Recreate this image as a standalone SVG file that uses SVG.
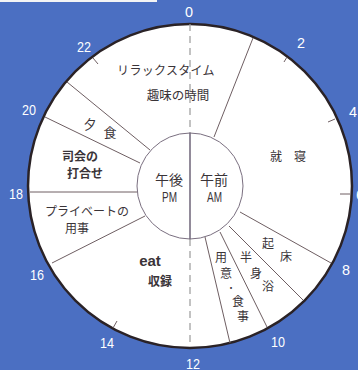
<svg xmlns="http://www.w3.org/2000/svg" width="358" height="370" viewBox="0 0 358 370">
<style>
.num{font-family:"Liberation Sans",Arial,sans-serif;font-size:15px;fill:#ffffff;text-anchor:middle}
.jp{font-family:"Noto Sans CJK JP","Noto Sans",sans-serif;font-size:12px;fill:#3a3438;text-anchor:middle}
.bold{font-weight:bold}
.div{stroke:#6e5e62;stroke-width:1;fill:none}
.tick{stroke:#6e5e62;stroke-width:1}
</style>
<rect x="0" y="0" width="358" height="370" fill="#4b6fc2"/>
<rect x="0" y="0" width="157" height="2" fill="#f4f4f4"/>
<g id="dial">
<circle cx="190" cy="186" r="162" fill="#ffffff" stroke="#2a2226" stroke-width="2.5"/>
<line x1="190" y1="24" x2="190" y2="133" stroke="#9a9a9a" stroke-width="1.2" stroke-dasharray="7,5"/>
<line x1="190" y1="239" x2="190" y2="347" stroke="#9a9a9a" stroke-width="1.2" stroke-dasharray="7,5"/>
<line class="tick" x1="93" y1="58" x2="98" y2="64"/>
<line class="tick" x1="284" y1="62" x2="287" y2="57"/>
<line class="tick" x1="328" y1="122" x2="335" y2="119"/>
<line class="tick" x1="340" y1="194" x2="350" y2="194"/>
<line class="tick" x1="113" y1="328" x2="117" y2="321"/>
</g>
<g id="hours">
<text class="num" x="189" y="17" textLength="8" lengthAdjust="spacingAndGlyphs">0</text>
<text class="num" x="301" y="48" textLength="8" lengthAdjust="spacingAndGlyphs">2</text>
<text class="num" x="353" y="117" textLength="8" lengthAdjust="spacingAndGlyphs">4</text>
<text class="num" x="360" y="200" textLength="8" lengthAdjust="spacingAndGlyphs">6</text>
<text class="num" x="346" y="275" textLength="8" lengthAdjust="spacingAndGlyphs">8</text>
<text class="num" x="278" y="347" textLength="14" lengthAdjust="spacingAndGlyphs">10</text>
<text class="num" x="193" y="369" textLength="14" lengthAdjust="spacingAndGlyphs">12</text>
<text class="num" x="107" y="348" textLength="14" lengthAdjust="spacingAndGlyphs">14</text>
<text class="num" x="37" y="280" textLength="14" lengthAdjust="spacingAndGlyphs">16</text>
<text class="num" x="16" y="199" textLength="14" lengthAdjust="spacingAndGlyphs">18</text>
<text class="num" x="29" y="115" textLength="14" lengthAdjust="spacingAndGlyphs">20</text>
<text class="num" x="84" y="52" textLength="14" lengthAdjust="spacingAndGlyphs">22</text>
</g>
<g id="connectors">
<line class="div" x1="214" y1="137" x2="253" y2="38"/>
<line class="div" x1="150" y1="150" x2="67" y2="82"/>
<line class="div" x1="140" y1="163" x2="45" y2="117"/>
<line class="div" x1="138" y1="192" x2="30" y2="192"/>
<line class="div" x1="145" y1="216" x2="52" y2="263"/>
<line class="div" x1="240" y1="212" x2="331" y2="263"/>
<line class="div" x1="229" y1="226" x2="303" y2="300"/>
<line class="div" x1="220" y1="232" x2="267" y2="327"/>
<line class="div" x1="205" y1="237" x2="230" y2="343"/>
</g>
<g id="center">
<circle cx="190" cy="186" r="53" fill="#ffffff" stroke="#7a6f80" stroke-width="1"/>
<line x1="190" y1="133" x2="190" y2="239" stroke="#6e6478" stroke-width="1.5"/>
<text class="jp" x="169" y="185" style="font-size:14px">午後</text>
<text class="num" x="169.5" y="202" style="fill:#3a3438;font-size:14px" textLength="15" lengthAdjust="spacingAndGlyphs">PM</text>
<text class="jp" x="214" y="185" style="font-size:14px">午前</text>
<text class="num" x="214.5" y="202" style="fill:#3a3438;font-size:14px" textLength="15" lengthAdjust="spacingAndGlyphs">AM</text>
</g>
<g id="relax">
<text class="jp" x="166" y="75" style="letter-spacing:0.3px">リラックスタイム</text>
<text class="jp" x="178" y="100" style="font-size:12.5px">趣味の時間</text>
</g>
<g id="sleep">
<text class="jp" x="288" y="161">就　寝</text>
</g>
<g id="dinner">
<text class="jp" x="90" y="129" style="font-size:13px">夕</text>
<text class="jp" x="110" y="137" style="font-size:13px">食</text>
</g>
<g id="meeting">
<text class="jp bold" x="80" y="161">司会の</text>
<text class="jp bold" x="85" y="178">打合せ</text>
</g>
<g id="private">
<text class="jp" x="87" y="216">プライベートの</text>
<text class="jp" x="77" y="233">用事</text>
</g>
<g id="eat">
<text class="num bold" x="150" y="266" style="fill:#3a3438">eat</text>
<text class="jp bold" x="160" y="286">収録</text>
</g>
<g id="wake">
<text class="jp" x="268" y="248">起</text>
<text class="jp" x="286" y="261">床</text>
</g>
<g id="bath">
<text class="jp" x="246" y="262">半</text>
<text class="jp" x="256" y="278">身</text>
<text class="jp" x="268" y="291">浴</text>
</g>
<g id="prep">
<text class="jp" x="221" y="262">用</text>
<text class="jp" x="226" y="278">意</text>
<text class="jp" x="231" y="291" style="font-size:9px">・</text>
<text class="jp" x="238" y="306">食</text>
<text class="jp" x="243" y="321">事</text>
</g>
</svg>
